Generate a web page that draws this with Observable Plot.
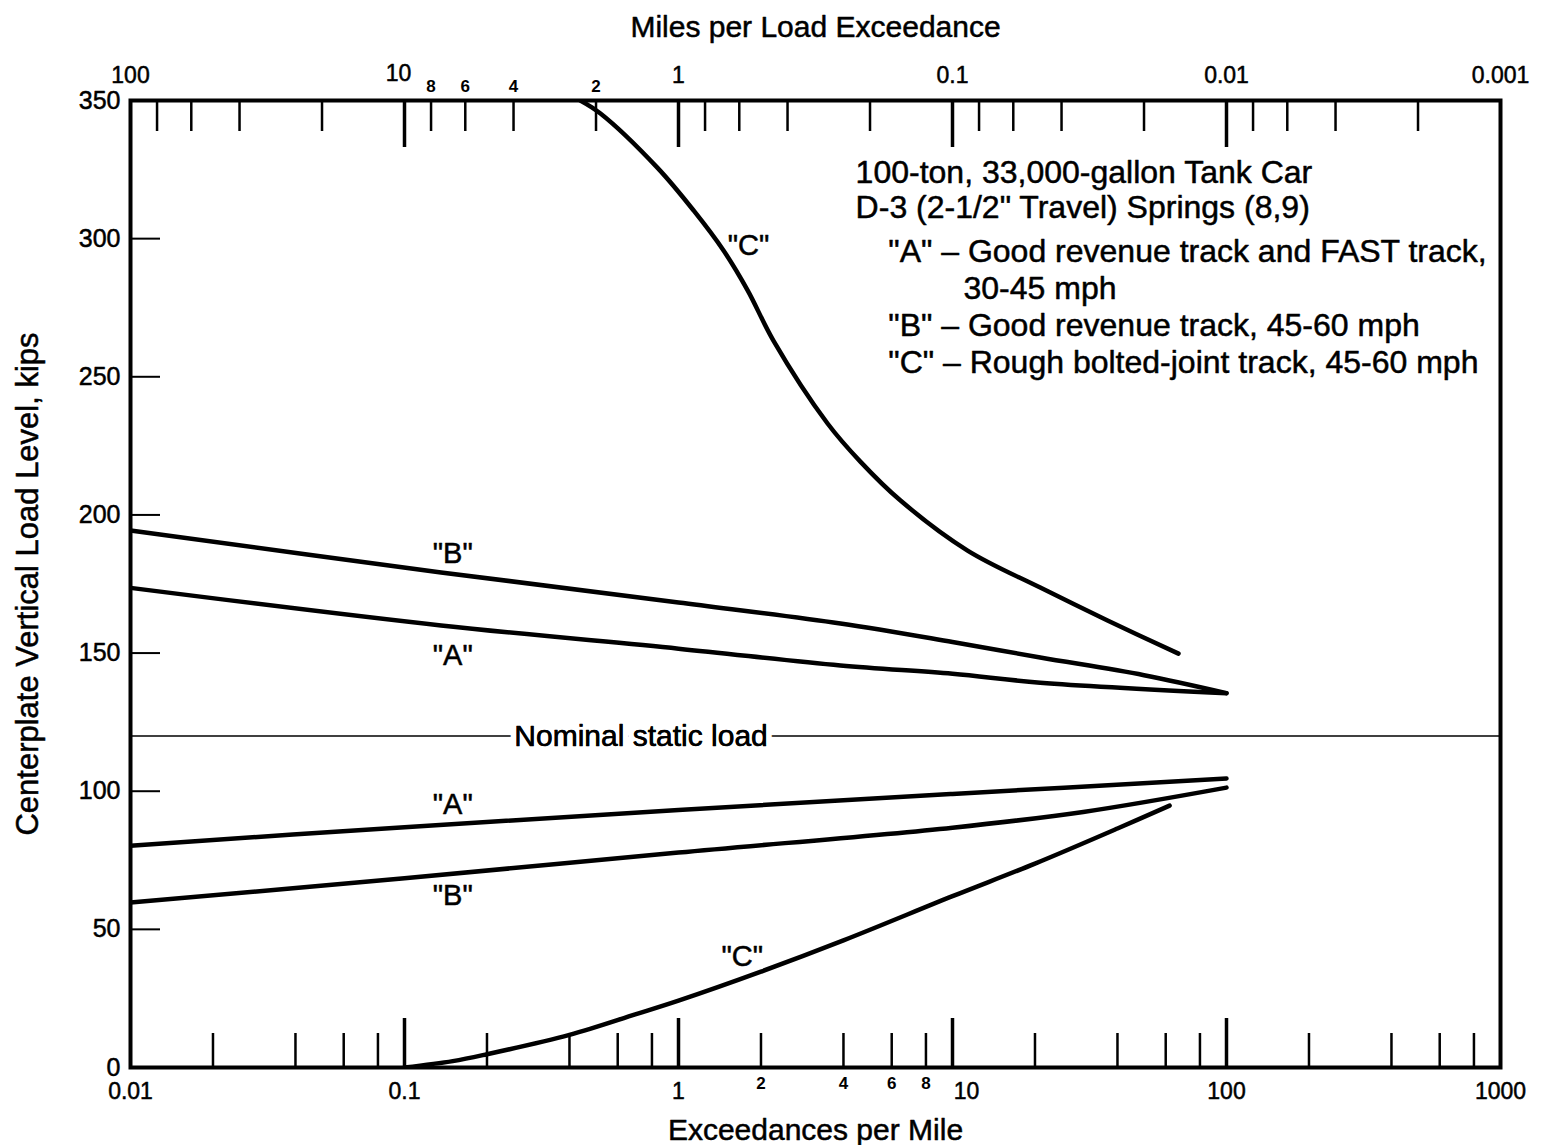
<!DOCTYPE html>
<html><head><meta charset="utf-8">
<script src="https://cdn.jsdelivr.net/npm/d3@7"></script>
<script src="https://cdn.jsdelivr.net/npm/@observablehq/plot@0.6"></script>
<style>body{margin:0;background:#fff}</style>
</head><body><div id="chart"></div>
<script>
// Exceedances per mile (x) and centerplate vertical load in kips (y)
const upperC_x = [0.438, 0.519, 0.837, 1.135, 1.46, 1.79, 2.22, 3.5, 4.61, 6.46, 11.35, 20.9, 36.8, 66.8];
const upperC_y = [350, 345.3, 325.7, 310.2, 295.7, 281.2, 263.1, 233.1, 219.3, 205.2, 187.1, 173.7, 161.8, 149.8];
const upperB_x = [0.01, 0.136, 1, 3.9, 10, 20.9, 50, 100];
const upperB_y = [194.4, 179.2, 168.3, 160.7, 154, 148.4, 142, 135.5];
const upperA_x = [0.01, 0.136, 1, 3.9, 10, 20.9, 100];
const upperA_y = [173.6, 160, 151.6, 145.5, 142.5, 139.3, 135.5];
const lowerA_x = [0.01, 0.1, 1, 10, 100];
const lowerA_y = [80.3, 87, 93.2, 99, 104.6];
const lowerB_x = [0.01, 0.1, 1, 10, 30, 100];
const lowerB_y = [59.7, 68.5, 77.8, 86.8, 92.5, 101.3];
const lowerC_x = [0.1, 0.15, 0.2, 0.4, 0.7, 1, 2, 4, 10, 20, 40, 62];
const lowerC_y = [0, 2.3, 4.8, 11.8, 19.3, 24.2, 34.7, 46, 62, 73.8, 86.5, 94.8];
const nominalStatic = 120;

// Axis ticks
const bottomMinor = [0.02,0.04,0.06,0.08, 0.2,0.4,0.6,0.8, 2,4,6,8, 20,40,60,80, 200,400,600,800];
const bottomMajor = [0.1, 1, 10, 100];
const bottomLabels = [0.01, 0.1, 1, 100, 1000];
const bottomLabelText = ["0.01", "0.1", "1", "100", "1000"];
const bottomTen = [10];
const bottomSmall = [2, 4, 6, 8];
const topMinorMiles = [80,60,40,20, 8,6,4,2, 0.8,0.6,0.4,0.2, 0.08,0.06,0.04,0.02, 0.008,0.006,0.004,0.002];
const topMajorMiles = [10, 1, 0.1, 0.01];
const topLabelsMiles = [100, 1, 0.1, 0.01, 0.001];
const topLabelText = ["100", "1", "0.1", "0.01", "0.001"];
const topTen = [10];
const topSmallMiles = [8, 6, 4, 2];
const yTicks = [50, 100, 150, 200, 250, 300];
const yLabels = [0, 50, 100, 150, 200, 250, 300, 350];

// Curve labels
const curveLabelText = ['"B"', '"A"', '"A"', '"B"', '"C"', '"C"'];
const curveLabelX = [0.15, 0.15, 0.15, 0.15, 1.8, 1.71];
const curveLabelY = [186, 149, 95, 62, 297.5, 40];

// Annotation block
const noteText = [
  "100-ton, 33,000-gallon Tank Car",
  "D-3 (2-1/2\" Travel) Springs (8,9)",
  "\"A\" – Good revenue track and FAST track,",
  "30-45 mph",
  "\"B\" – Good revenue track, 45-60 mph",
  "\"C\" – Rough bolted-joint track, 45-60 mph"
];
const noteX = [4.43, 4.43, 5.83, 10.97, 5.83, 5.83];
const noteY = [323.9, 311.3, 295.3, 281.9, 268.5, 255.1];

const series = [
  ["upperC", upperC_x, upperC_y], ["upperB", upperB_x, upperB_y], ["upperA", upperA_x, upperA_y],
  ["lowerA", lowerA_x, lowerA_y], ["lowerB", lowerB_x, lowerB_y], ["lowerC", lowerC_x, lowerC_y]
];
const rows = series.flatMap(([s, xs, ys]) => xs.map((x, i) => ({series: s, x, y: ys[i]})));
const curveLabels = curveLabelText.map((t, i) => ({t, x: curveLabelX[i], y: curveLabelY[i]}));
const notes = noteText.map((t, i) => ({t, x: noteX[i], y: noteY[i]}));

const W = 1544, H = 1145, mt = 100, mb = 78, ml = 130, mr = 44;
const ph = H - mt - mb;
const font = "'Liberation Sans', Arial, sans-serif";
const heavy = {fill: "black", stroke: "black", strokeWidth: 0.5};

const chart = Plot.plot({
  width: W, height: H,
  marginTop: mt, marginBottom: mb, marginLeft: ml, marginRight: mr,
  style: {fontFamily: font, background: "#fff", color: "#000"},
  x: {type: "log", domain: [0.01, 1000], axis: null},
  y: {domain: [0, 350], axis: null},
  marks: [
    // nominal static load
    Plot.ruleY([nominalStatic], {stroke: "black", strokeWidth: 1.6}),
    Plot.text([{x: 0.73, y: nominalStatic}], {x: "x", y: "y", text: () => "Nominal static load", fontSize: 30, stroke: "white", strokeWidth: 12, fill: "black"}),
    Plot.text([{x: 0.73, y: nominalStatic}], {x: "x", y: "y", text: () => "Nominal static load", fontSize: 30, ...heavy}),
    // bottom ticks
    Plot.tickX(bottomMinor, {x: d => d, insetTop: ph - 34, stroke: "black", strokeWidth: 2.5}),
    Plot.tickX(bottomMajor, {x: d => d, insetTop: ph - 49, stroke: "black", strokeWidth: 3.5}),
    // top ticks
    Plot.tickX(topMinorMiles, {x: d => 1 / d, insetBottom: ph - 31, stroke: "black", strokeWidth: 2.5}),
    Plot.tickX(topMajorMiles, {x: d => 1 / d, insetBottom: ph - 47, stroke: "black", strokeWidth: 3.5}),
    // y ticks
    Plot.tickY(yTicks, {y: d => d, insetRight: (W - ml - mr) - 30, stroke: "black", strokeWidth: 2}),
    // curves
    Plot.line(rows, {x: "x", y: "y", z: "series", stroke: "black", strokeWidth: 4.5, curve: "catmull-rom", clip: true}),
    // curve labels
    Plot.text(curveLabels, {x: "x", y: "y", text: "t", fontSize: 29, ...heavy}),
    // annotation block
    Plot.text(notes, {x: "x", y: "y", text: "t", textAnchor: "start", fontSize: 32, ...heavy}),
    // frame
    Plot.frame({stroke: "black", strokeWidth: 4}),
    // y labels
    Plot.text(yLabels, {y: d => d, text: d => String(d), frameAnchor: "left", dx: -10, textAnchor: "end", lineAnchor: "middle", fontSize: 25, ...heavy}),
    // bottom labels
    Plot.text(bottomLabels, {x: d => d, text: (d, i) => bottomLabelText[i], frameAnchor: "bottom", lineAnchor: "middle", dy: 24, fontSize: 23, ...heavy}),
    Plot.text(bottomTen, {x: d => d, text: () => "10", frameAnchor: "bottom", lineAnchor: "middle", dy: 24, dx: 14, fontSize: 23, ...heavy}),
    Plot.text(bottomSmall, {x: d => d, text: d => String(d), frameAnchor: "bottom", lineAnchor: "middle", dy: 16, fontSize: 17, fontWeight: "bold"}),
    // top labels
    Plot.text(topLabelsMiles, {x: d => 1 / d, text: (d, i) => topLabelText[i], frameAnchor: "top", lineAnchor: "middle", dy: -25, fontSize: 23, ...heavy}),
    Plot.text(topTen, {x: d => 1 / d, text: () => "10", frameAnchor: "top", lineAnchor: "middle", dy: -27, dx: -6, fontSize: 23, ...heavy}),
    Plot.text(topSmallMiles, {x: d => 1 / d, text: d => String(d), frameAnchor: "top", lineAnchor: "middle", dy: -14, fontSize: 17, fontWeight: "bold"}),
    // axis titles
    Plot.text(["Miles per Load Exceedance"], {text: d => d, frameAnchor: "top", lineAnchor: "middle", dy: -73, fontSize: 30, ...heavy}),
    Plot.text(["Exceedances per Mile"], {text: d => d, frameAnchor: "bottom", lineAnchor: "middle", dy: 63, fontSize: 30, ...heavy}),
    Plot.text(["Centerplate Vertical Load Level, kips"], {text: d => d, frameAnchor: "left", textAnchor: "middle", lineAnchor: "middle", dx: -102, rotate: -90, fontSize: 31, ...heavy})
  ]
});
document.getElementById("chart").appendChild(chart);
</script>
</body></html>
